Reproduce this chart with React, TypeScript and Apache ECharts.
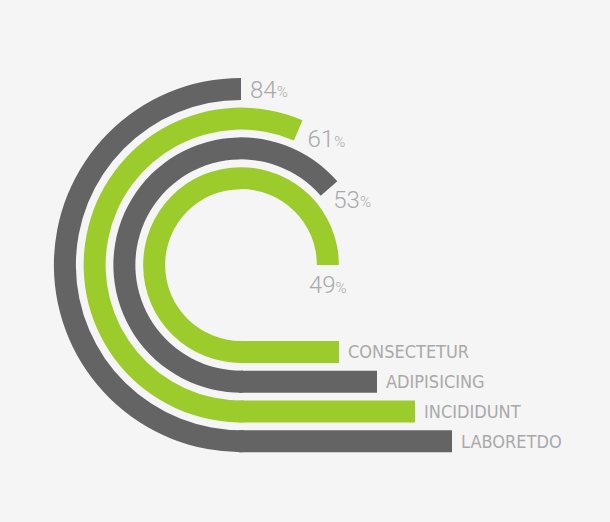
import React, { useEffect, useRef } from 'react';
import * as echarts from 'echarts';

// rings ordered from the innermost to the outermost
const categories = ['CONSECTETUR', 'ADIPISICING', 'INCIDIDUNT', 'LABORETDO'];
const percentValues = [49, 53, 61, 84];
// angle (degrees) travelled by each ring, starting at the bottom and running round the left side
const arcSweep = [270, 229, 203, 180];
// straight run of each ring to the right of the centre
const barLength = [100, 138, 176, 213];

const GREEN = '#9ccc2c';
const GRAY = '#646464';
const ringColors = [GREEN, GRAY, GREEN, GRAY];
const pctOffsets: [number, number][] = [[-19, 12], [-1, 5], [2, 6], [1, 1]];

export default function App() {
  const ref = useRef<HTMLDivElement>(null);
  useEffect(() => {
    document.body.style.margin = '0';
    if (!ref.current) return;
    const chart = echarts.init(ref.current, undefined, { renderer: 'svg' });
    const pctRich = {
      n: { fontFamily: 'Roboto', fontWeight: 300, fontSize: 24, color: '#a9a9a9' },
      p: { fontFamily: 'Roboto', fontWeight: 300, fontSize: 15, color: '#a9a9a9', padding: [5, 0, 0, 0] },
    };
    chart.setOption({
      animation: false,
      backgroundColor: '#f5f5f5',
      polar: { center: [241, 265], radius: [72, 191] },
      angleAxis: { type: 'value', min: 0, max: 360, startAngle: 271, clockwise: true, show: false },
      radiusAxis: { type: 'category', data: categories, show: false },
      grid: { left: 239, top: 337, height: 119, width: 371 },
      xAxis: { type: 'value', min: 0, max: 371, show: false },
      yAxis: { type: 'category', data: categories, inverse: true, show: false },
      series: [
        {
          type: 'bar',
          coordinateSystem: 'polar',
          barWidth: 22,
          data: arcSweep.map((v, i) => ({
            value: v + 1,
            itemStyle: { color: ringColors[i] },
            label: {
              show: true,
              position: 'end',
              rotate: 0,
              distance: 8,
              offset: pctOffsets[i],
              formatter: `{n|${percentValues[i]}}{p|%}`,
              rich: pctRich,
            },
          })),
        },
        {
          type: 'bar',
          barWidth: 22,
          data: barLength.map((v, i) => ({ value: v, itemStyle: { color: ringColors[i] } })),
          label: {
            show: true,
            position: 'right',
            distance: 9,
            formatter: '{b}',
            fontFamily: "'Liberation Sans Narrow', 'DejaVu Sans Condensed', Roboto, sans-serif",
            fontSize: 18,
            color: '#a9a9a9',
          },
        },
      ],
    });
    return () => chart.dispose();
  }, []);
  return <div ref={ref} style={{ width: 610, height: 522 }} />;
}
